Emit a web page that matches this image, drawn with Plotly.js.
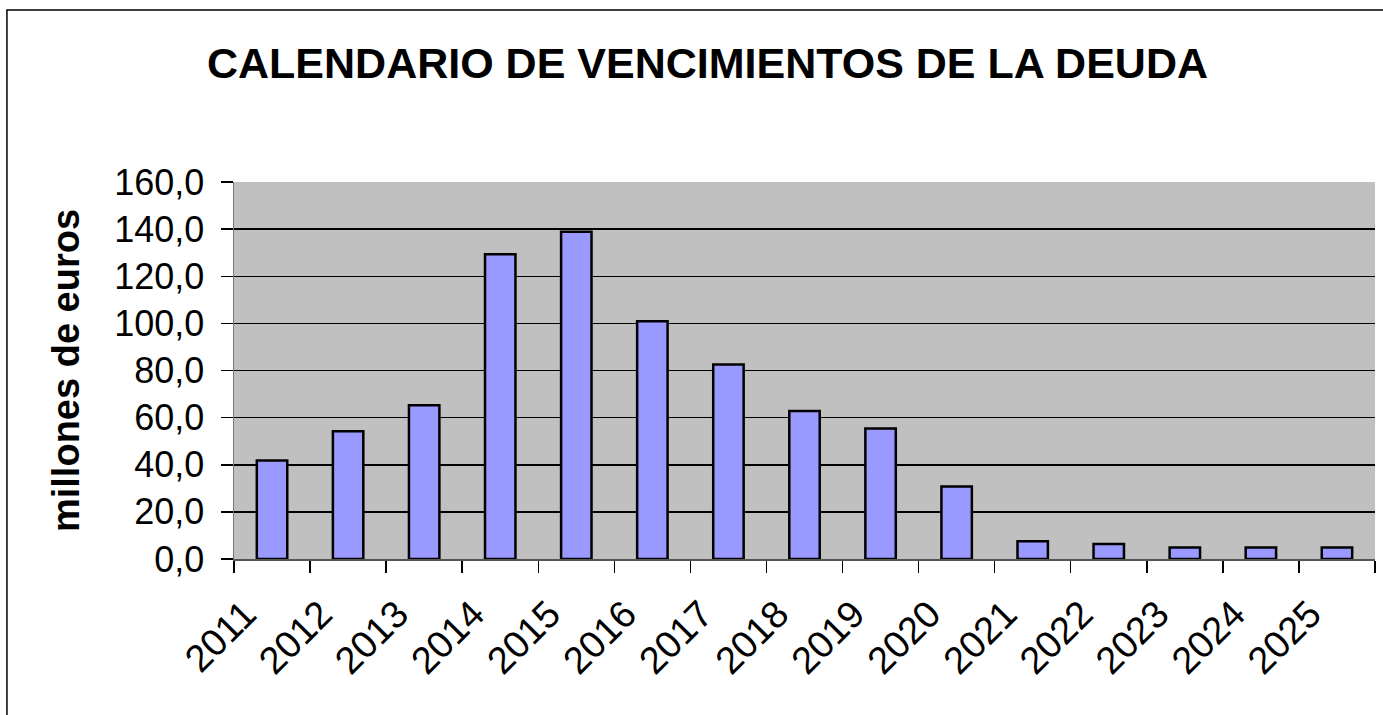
<!DOCTYPE html>
<html>
<head>
<meta charset="utf-8">
<script src="https://cdn.plot.ly/plotly-3.0.1.min.js"></script>
<style>
  body { margin: 0; background: #fff; }
  #chart { width: 1383px; height: 715px; }
</style>
</head>
<body>
<div id="chart"></div>
<script>
const years = ['2011', '2012', '2013', '2014', '2015', '2016', '2017', '2018',
  '2019', '2020', '2021', '2022', '2023', '2024', '2025'];
const vencimientos = [41.8, 54.2, 65.3, 129.3, 138.9, 100.9, 82.5, 62.8,
  55.4, 30.8, 7.5, 6.4, 4.9, 4.9, 4.9];
const yTicks = [0, 20, 40, 60, 80, 100, 120, 140, 160];

const font = 'Liberation Sans, Arial, sans-serif';

Plotly.newPlot(
  'chart',
  [
    {
      type: 'bar',
      x: years,
      y: vencimientos,
      marker: {
        color: '#9999ff',
        line: { color: '#000000', width: 2.5 },
      },
      hoverinfo: 'x+y',
    },
  ],
  {
    width: 1383,
    height: 715,
    margin: { l: 234, r: 8, t: 182, b: 156 },
    paper_bgcolor: '#ffffff',
    plot_bgcolor: '#c0c0c0',
    separators: ',.',
    showlegend: false,
    bargap: 0.6,
    font: { family: font, color: '#000000', size: 35 },
    title: {
      text: 'CALENDARIO DE VENCIMIENTOS DE LA DEUDA',
      font: { family: font, size: 43, color: '#000000', weight: 'bold' },
      xref: 'paper',
      x: 0.415,
      xanchor: 'center',
      yref: 'container',
      y: 0.912,
      yanchor: 'middle',
    },
    xaxis: {
      type: 'category',
      range: [-0.5, 14.5],
      tickangle: -45,
      ticks: 'outside',
      tickson: 'boundaries',
      ticklen: 12,
      tickwidth: 1.5,
      tickcolor: '#000000',
      ticklabelstandoff: 16,
      ticklabelshift: -27,
      showgrid: false,
      showline: true,
      linecolor: '#555555',
      linewidth: 1.5,
      tickfont: { family: font, size: 38 },
    },
    yaxis: {
      range: [0, 160],
      tickvals: yTicks,
      tickformat: '.1f',
      ticks: 'outside',
      ticklen: 12,
      tickwidth: 1.5,
      tickcolor: '#000000',
      ticklabelstandoff: 9,
      showgrid: true,
      gridcolor: '#000000',
      gridwidth: 1.5,
      zeroline: false,
      showline: true,
      linecolor: '#777777',
      linewidth: 1.5,
      tickfont: { family: font, size: 36 },
      title: {
        text: 'millones de euros',
        font: { family: font, size: 38, weight: 'bold' },
        standoff: 23,
      },
    },
    shapes: [
      {
        type: 'rect',
        xref: 'paper',
        yref: 'paper',
        x0: -0.199,
        x1: 1.1,
        y0: -0.5,
        y1: 1.456,
        line: { color: '#000000', width: 1.5 },
        fillcolor: 'rgba(0,0,0,0)',
        layer: 'below',
      },
    ],
  },
  { displayModeBar: false, staticPlot: true }
);
</script>
</body>
</html>
